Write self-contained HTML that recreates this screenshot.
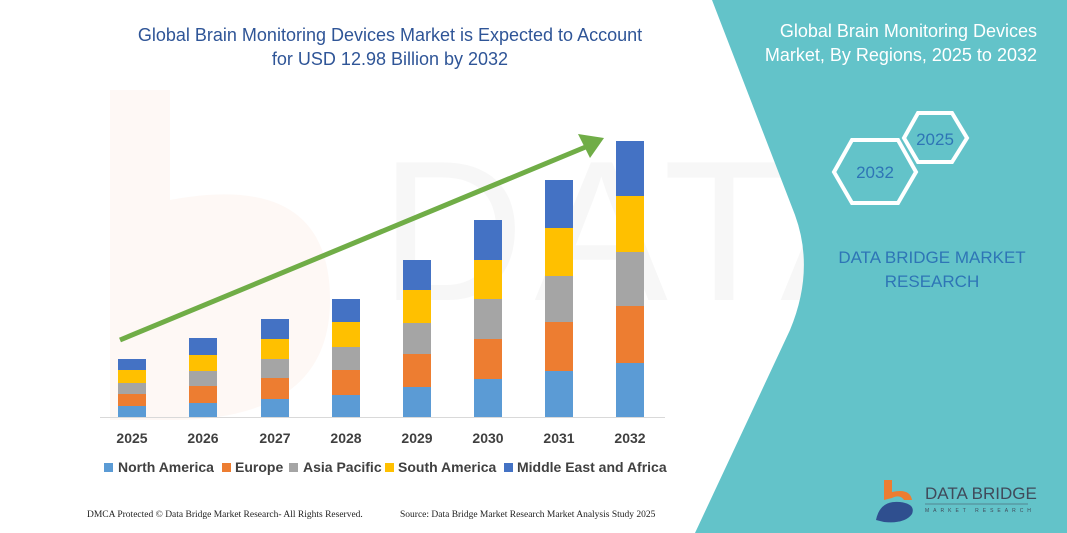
<!DOCTYPE html>
<html><head><meta charset="utf-8"><style>
html,body{margin:0;padding:0;background:#fff;}
svg{display:block}
</style></head><body>
<svg width="1067" height="533" viewBox="0 0 1067 533" xmlns="http://www.w3.org/2000/svg" font-family="Liberation Sans, sans-serif">
<rect width="1067" height="533" fill="#fff"/>
<path d="M110 90 L170 90 L170 200 Q330 170 330 300 Q330 420 170 420 L110 420 Z" fill="#fdf3ee" opacity="0.6"/>
<text x="380" y="300" font-size="200" fill="#f7f7f7" letter-spacing="10">DATA BRIDGE</text>
<path d="M712 0 L1067 0 L1067 533 L695 533 L790 330 Q815 270 795 215 Z" fill="#63c3c9"/>
<text x="390" y="41" font-size="18" fill="#2f5597" text-anchor="middle">Global Brain Monitoring Devices Market is Expected to Account</text>
<text x="390" y="65" font-size="18" fill="#2f5597" text-anchor="middle">for USD 12.98 Billion by 2032</text>
<g>
<rect x="118" y="359" width="28" height="11" fill="#4472c4"/><rect x="118" y="370" width="28" height="13" fill="#ffc000"/><rect x="118" y="383" width="28" height="11" fill="#a5a5a5"/><rect x="118" y="394" width="28" height="12" fill="#ed7d31"/><rect x="118" y="406" width="28" height="11" fill="#5b9bd5"/>
<rect x="189" y="338" width="28" height="17" fill="#4472c4"/><rect x="189" y="355" width="28" height="16" fill="#ffc000"/><rect x="189" y="371" width="28" height="15" fill="#a5a5a5"/><rect x="189" y="386" width="28" height="17" fill="#ed7d31"/><rect x="189" y="403" width="28" height="14" fill="#5b9bd5"/>
<rect x="261" y="319" width="28" height="20" fill="#4472c4"/><rect x="261" y="339" width="28" height="20" fill="#ffc000"/><rect x="261" y="359" width="28" height="19" fill="#a5a5a5"/><rect x="261" y="378" width="28" height="21" fill="#ed7d31"/><rect x="261" y="399" width="28" height="18" fill="#5b9bd5"/>
<rect x="332" y="299" width="28" height="23" fill="#4472c4"/><rect x="332" y="322" width="28" height="25" fill="#ffc000"/><rect x="332" y="347" width="28" height="23" fill="#a5a5a5"/><rect x="332" y="370" width="28" height="25" fill="#ed7d31"/><rect x="332" y="395" width="28" height="22" fill="#5b9bd5"/>
<rect x="403" y="260" width="28" height="30" fill="#4472c4"/><rect x="403" y="290" width="28" height="33" fill="#ffc000"/><rect x="403" y="323" width="28" height="31" fill="#a5a5a5"/><rect x="403" y="354" width="28" height="33" fill="#ed7d31"/><rect x="403" y="387" width="28" height="30" fill="#5b9bd5"/>
<rect x="474" y="220" width="28" height="40" fill="#4472c4"/><rect x="474" y="260" width="28" height="39" fill="#ffc000"/><rect x="474" y="299" width="28" height="40" fill="#a5a5a5"/><rect x="474" y="339" width="28" height="40" fill="#ed7d31"/><rect x="474" y="379" width="28" height="38" fill="#5b9bd5"/>
<rect x="545" y="180" width="28" height="48" fill="#4472c4"/><rect x="545" y="228" width="28" height="48" fill="#ffc000"/><rect x="545" y="276" width="28" height="46" fill="#a5a5a5"/><rect x="545" y="322" width="28" height="49" fill="#ed7d31"/><rect x="545" y="371" width="28" height="46" fill="#5b9bd5"/>
<rect x="616" y="141" width="28" height="55" fill="#4472c4"/><rect x="616" y="196" width="28" height="56" fill="#ffc000"/><rect x="616" y="252" width="28" height="54" fill="#a5a5a5"/><rect x="616" y="306" width="28" height="57" fill="#ed7d31"/><rect x="616" y="363" width="28" height="54" fill="#5b9bd5"/>
</g>
<line x1="100" y1="417.5" x2="665" y2="417.5" stroke="#d9d9d9"/>
<g font-size="14" font-weight="bold" fill="#404040" text-anchor="middle">
<text x="132" y="443">2025</text><text x="203" y="443">2026</text><text x="275" y="443">2027</text><text x="346" y="443">2028</text><text x="417" y="443">2029</text><text x="488" y="443">2030</text><text x="559" y="443">2031</text><text x="630" y="443">2032</text>
</g>
<line x1="120" y1="340" x2="588" y2="146" stroke="#70ad47" stroke-width="5"/>
<polygon points="604,138 578,134 590,158" fill="#70ad47"/>
<g font-size="14" font-weight="bold" fill="#404040">
<rect x="104" y="463" width="9" height="9" fill="#5b9bd5"/><text x="118" y="472">North America</text>
<rect x="222" y="463" width="9" height="9" fill="#ed7d31"/><text x="235" y="472">Europe</text>
<rect x="289" y="463" width="9" height="9" fill="#a5a5a5"/><text x="303" y="472">Asia Pacific</text>
<rect x="385" y="463" width="9" height="9" fill="#ffc000"/><text x="398" y="472">South America</text>
<rect x="504" y="463" width="9" height="9" fill="#4472c4"/><text x="517" y="472">Middle East and Africa</text>
</g>
<g font-family="Liberation Serif, serif" font-size="9.5" fill="#222">
<text x="87" y="517">DMCA Protected © Data Bridge Market Research-  All Rights Reserved.</text>
<text x="400" y="517">Source: Data Bridge Market Research  Market Analysis Study 2025</text>
</g>
<g font-size="18" fill="#fff" text-anchor="end">
<text x="1037" y="37">Global Brain Monitoring Devices</text>
<text x="1037" y="61">Market, By Regions, 2025 to 2032</text>
</g>
<polygon points="904,138 918,113 952,113 967,138 952,162 918,162" fill="none" stroke="#fff" stroke-width="4"/>
<polygon points="834,172 852,140 898,140 916,172 898,203 852,203" fill="none" stroke="#fff" stroke-width="4"/>
<text x="935" y="145" font-size="17" fill="#2e75b6" text-anchor="middle">2025</text>
<text x="875" y="178" font-size="17" fill="#2e75b6" text-anchor="middle">2032</text>
<g font-size="17" fill="#2e75b6" text-anchor="middle">
<text x="932" y="263">DATA BRIDGE MARKET</text>
<text x="932" y="287">RESEARCH</text>
</g>
<path d="M884 480 L892 480 L892 492 Q910 488 912 500 L904 500 Q900 494 892 498 L884 500 Z" fill="#ed7d31"/>
<path d="M876 520 Q880 500 900 502 Q916 504 912 514 Q905 524 884 522 Z" fill="#2f4f8f"/>
<text x="925" y="499" font-size="17" fill="#404a5a">DATA BRIDGE</text>
<text x="925" y="512" font-size="5" fill="#404a5a" letter-spacing="4">MARKET RESEARCH</text>
<line x1="925" y1="504" x2="1028" y2="504" stroke="#404a5a" stroke-width="0.6"/>
</svg>
</body></html>
